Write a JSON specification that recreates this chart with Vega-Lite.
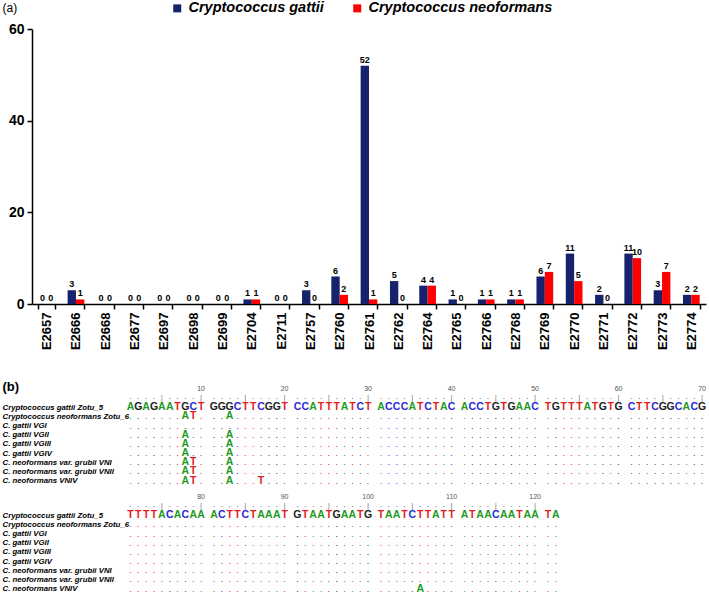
{
"$schema":"https://vega.github.io/schema/vega-lite/v6.json",
"padding":{"left":2,"top":1,"right":2,"bottom":0},
"config":{"font":"Liberation Sans","view":{"stroke":null}},
"datasets":{
"bars":[
{"c":"E2657","s":"Cryptococcus gattii","v":0},{"c":"E2657","s":"Cryptococcus neoformans","v":0},
{"c":"E2666","s":"Cryptococcus gattii","v":3},{"c":"E2666","s":"Cryptococcus neoformans","v":1},
{"c":"E2668","s":"Cryptococcus gattii","v":0},{"c":"E2668","s":"Cryptococcus neoformans","v":0},
{"c":"E2677","s":"Cryptococcus gattii","v":0},{"c":"E2677","s":"Cryptococcus neoformans","v":0},
{"c":"E2697","s":"Cryptococcus gattii","v":0},{"c":"E2697","s":"Cryptococcus neoformans","v":0},
{"c":"E2698","s":"Cryptococcus gattii","v":0},{"c":"E2698","s":"Cryptococcus neoformans","v":0},
{"c":"E2699","s":"Cryptococcus gattii","v":0},{"c":"E2699","s":"Cryptococcus neoformans","v":0},
{"c":"E2704","s":"Cryptococcus gattii","v":1},{"c":"E2704","s":"Cryptococcus neoformans","v":1},
{"c":"E2711","s":"Cryptococcus gattii","v":0},{"c":"E2711","s":"Cryptococcus neoformans","v":0},
{"c":"E2757","s":"Cryptococcus gattii","v":3},{"c":"E2757","s":"Cryptococcus neoformans","v":0},
{"c":"E2760","s":"Cryptococcus gattii","v":6},{"c":"E2760","s":"Cryptococcus neoformans","v":2},
{"c":"E2761","s":"Cryptococcus gattii","v":52},{"c":"E2761","s":"Cryptococcus neoformans","v":1},
{"c":"E2762","s":"Cryptococcus gattii","v":5},{"c":"E2762","s":"Cryptococcus neoformans","v":0},
{"c":"E2764","s":"Cryptococcus gattii","v":4},{"c":"E2764","s":"Cryptococcus neoformans","v":4},
{"c":"E2765","s":"Cryptococcus gattii","v":1},{"c":"E2765","s":"Cryptococcus neoformans","v":0},
{"c":"E2766","s":"Cryptococcus gattii","v":1},{"c":"E2766","s":"Cryptococcus neoformans","v":1},
{"c":"E2768","s":"Cryptococcus gattii","v":1},{"c":"E2768","s":"Cryptococcus neoformans","v":1},
{"c":"E2769","s":"Cryptococcus gattii","v":6},{"c":"E2769","s":"Cryptococcus neoformans","v":7},
{"c":"E2770","s":"Cryptococcus gattii","v":11},{"c":"E2770","s":"Cryptococcus neoformans","v":5},
{"c":"E2771","s":"Cryptococcus gattii","v":2},{"c":"E2771","s":"Cryptococcus neoformans","v":0},
{"c":"E2772","s":"Cryptococcus gattii","v":11},{"c":"E2772","s":"Cryptococcus neoformans","v":10},
{"c":"E2773","s":"Cryptococcus gattii","v":3},{"c":"E2773","s":"Cryptococcus neoformans","v":7},
{"c":"E2774","s":"Cryptococcus gattii","v":2},{"c":"E2774","s":"Cryptococcus neoformans","v":2}
],
"names":[
{"k":"z6","name":"Cryptococcus neoformans Zotu_6"},{"k":"g1","name":"C. gattii VGI"},{"k":"g2","name":"C. gattii VGII"},{"k":"g3","name":"C. gattii VGIII"},{"k":"g4","name":"C. gattii VGIV"},{"k":"n1","name":"C. neoformans var. grubii VNI"},{"k":"n2","name":"C. neoformans var. grubii VNII"},{"k":"n4","name":"C. neoformans VNIV"}
],
"aln":[
{"p":1,"L":1,"B":1,"i":1,"n":"A"},{"p":2,"L":1,"B":1,"i":2,"n":"G"},{"p":3,"L":1,"B":1,"i":3,"n":"A"},{"p":4,"L":1,"B":1,"i":4,"n":"G"},{"p":5,"L":1,"B":1,"i":5,"n":"A"},{"p":6,"L":1,"B":1,"i":6,"n":"A"},{"p":7,"L":1,"B":1,"i":7,"n":"T"},
{"p":8,"L":1,"B":1,"i":8,"n":"G","z6":"A","g2":"A","g3":"A","g4":"A","n1":"A","n2":"A","n4":"A"},
{"p":9,"L":1,"B":1,"i":9,"n":"C","z6":"T","n1":"T","n2":"T","n4":"T"},
{"p":10,"L":1,"B":1,"i":10,"n":"T"},
{"p":11,"L":1,"B":2,"i":1,"n":"G"},{"p":12,"L":1,"B":2,"i":2,"n":"G"},
{"p":13,"L":1,"B":2,"i":3,"n":"G","z6":"A","g2":"A","g3":"A","g4":"A","n1":"A","n2":"A","n4":"A"},
{"p":14,"L":1,"B":2,"i":4,"n":"C"},{"p":15,"L":1,"B":2,"i":5,"n":"T"},{"p":16,"L":1,"B":2,"i":6,"n":"T"},
{"p":17,"L":1,"B":2,"i":7,"n":"C","n4":"T"},
{"p":18,"L":1,"B":2,"i":8,"n":"G"},{"p":19,"L":1,"B":2,"i":9,"n":"G"},{"p":20,"L":1,"B":2,"i":10,"n":"T"},
{"p":21,"L":1,"B":3,"i":1,"n":"C"},{"p":22,"L":1,"B":3,"i":2,"n":"C"},{"p":23,"L":1,"B":3,"i":3,"n":"A"},{"p":24,"L":1,"B":3,"i":4,"n":"T"},{"p":25,"L":1,"B":3,"i":5,"n":"T"},{"p":26,"L":1,"B":3,"i":6,"n":"T"},{"p":27,"L":1,"B":3,"i":7,"n":"A"},{"p":28,"L":1,"B":3,"i":8,"n":"T"},{"p":29,"L":1,"B":3,"i":9,"n":"C"},{"p":30,"L":1,"B":3,"i":10,"n":"T"},
{"p":31,"L":1,"B":4,"i":1,"n":"A"},{"p":32,"L":1,"B":4,"i":2,"n":"C"},{"p":33,"L":1,"B":4,"i":3,"n":"C"},{"p":34,"L":1,"B":4,"i":4,"n":"C"},{"p":35,"L":1,"B":4,"i":5,"n":"A"},{"p":36,"L":1,"B":4,"i":6,"n":"T"},{"p":37,"L":1,"B":4,"i":7,"n":"C"},{"p":38,"L":1,"B":4,"i":8,"n":"T"},{"p":39,"L":1,"B":4,"i":9,"n":"A"},{"p":40,"L":1,"B":4,"i":10,"n":"C"},
{"p":41,"L":1,"B":5,"i":1,"n":"A"},{"p":42,"L":1,"B":5,"i":2,"n":"C"},{"p":43,"L":1,"B":5,"i":3,"n":"C"},{"p":44,"L":1,"B":5,"i":4,"n":"T"},{"p":45,"L":1,"B":5,"i":5,"n":"G"},{"p":46,"L":1,"B":5,"i":6,"n":"T"},{"p":47,"L":1,"B":5,"i":7,"n":"G"},{"p":48,"L":1,"B":5,"i":8,"n":"A"},{"p":49,"L":1,"B":5,"i":9,"n":"A"},{"p":50,"L":1,"B":5,"i":10,"n":"C"},
{"p":51,"L":1,"B":6,"i":1,"n":"T"},{"p":52,"L":1,"B":6,"i":2,"n":"G"},{"p":53,"L":1,"B":6,"i":3,"n":"T"},{"p":54,"L":1,"B":6,"i":4,"n":"T"},{"p":55,"L":1,"B":6,"i":5,"n":"T"},{"p":56,"L":1,"B":6,"i":6,"n":"A"},{"p":57,"L":1,"B":6,"i":7,"n":"T"},{"p":58,"L":1,"B":6,"i":8,"n":"G"},{"p":59,"L":1,"B":6,"i":9,"n":"T"},{"p":60,"L":1,"B":6,"i":10,"n":"G"},
{"p":61,"L":1,"B":7,"i":1,"n":"C"},{"p":62,"L":1,"B":7,"i":2,"n":"T"},{"p":63,"L":1,"B":7,"i":3,"n":"T"},{"p":64,"L":1,"B":7,"i":4,"n":"C"},{"p":65,"L":1,"B":7,"i":5,"n":"G"},{"p":66,"L":1,"B":7,"i":6,"n":"G"},{"p":67,"L":1,"B":7,"i":7,"n":"C"},{"p":68,"L":1,"B":7,"i":8,"n":"A"},{"p":69,"L":1,"B":7,"i":9,"n":"C"},{"p":70,"L":1,"B":7,"i":10,"n":"G"},
{"p":71,"L":2,"B":1,"i":1,"n":"T"},{"p":72,"L":2,"B":1,"i":2,"n":"T"},{"p":73,"L":2,"B":1,"i":3,"n":"T"},{"p":74,"L":2,"B":1,"i":4,"n":"T"},{"p":75,"L":2,"B":1,"i":5,"n":"A"},{"p":76,"L":2,"B":1,"i":6,"n":"C"},{"p":77,"L":2,"B":1,"i":7,"n":"A"},{"p":78,"L":2,"B":1,"i":8,"n":"C"},{"p":79,"L":2,"B":1,"i":9,"n":"A"},{"p":80,"L":2,"B":1,"i":10,"n":"A"},
{"p":81,"L":2,"B":2,"i":1,"n":"A"},{"p":82,"L":2,"B":2,"i":2,"n":"C"},{"p":83,"L":2,"B":2,"i":3,"n":"T"},{"p":84,"L":2,"B":2,"i":4,"n":"T"},{"p":85,"L":2,"B":2,"i":5,"n":"C"},{"p":86,"L":2,"B":2,"i":6,"n":"T"},{"p":87,"L":2,"B":2,"i":7,"n":"A"},{"p":88,"L":2,"B":2,"i":8,"n":"A"},{"p":89,"L":2,"B":2,"i":9,"n":"A"},{"p":90,"L":2,"B":2,"i":10,"n":"T"},
{"p":91,"L":2,"B":3,"i":1,"n":"G"},{"p":92,"L":2,"B":3,"i":2,"n":"T"},{"p":93,"L":2,"B":3,"i":3,"n":"A"},{"p":94,"L":2,"B":3,"i":4,"n":"A"},{"p":95,"L":2,"B":3,"i":5,"n":"T"},{"p":96,"L":2,"B":3,"i":6,"n":"G"},{"p":97,"L":2,"B":3,"i":7,"n":"A"},{"p":98,"L":2,"B":3,"i":8,"n":"A"},{"p":99,"L":2,"B":3,"i":9,"n":"T"},{"p":100,"L":2,"B":3,"i":10,"n":"G"},
{"p":101,"L":2,"B":4,"i":1,"n":"T"},{"p":102,"L":2,"B":4,"i":2,"n":"A"},{"p":103,"L":2,"B":4,"i":3,"n":"A"},{"p":104,"L":2,"B":4,"i":4,"n":"T"},{"p":105,"L":2,"B":4,"i":5,"n":"C"},{"p":106,"L":2,"B":4,"i":6,"n":"T","n4":"A"},{"p":107,"L":2,"B":4,"i":7,"n":"T"},{"p":108,"L":2,"B":4,"i":8,"n":"A"},{"p":109,"L":2,"B":4,"i":9,"n":"T"},{"p":110,"L":2,"B":4,"i":10,"n":"T"},
{"p":111,"L":2,"B":5,"i":1,"n":"A"},{"p":112,"L":2,"B":5,"i":2,"n":"T"},{"p":113,"L":2,"B":5,"i":3,"n":"A"},{"p":114,"L":2,"B":5,"i":4,"n":"A"},{"p":115,"L":2,"B":5,"i":5,"n":"C"},{"p":116,"L":2,"B":5,"i":6,"n":"A"},{"p":117,"L":2,"B":5,"i":7,"n":"A"},{"p":118,"L":2,"B":5,"i":8,"n":"T"},{"p":119,"L":2,"B":5,"i":9,"n":"A"},{"p":120,"L":2,"B":5,"i":10,"n":"A"},
{"p":121,"L":2,"B":6,"i":1,"n":"T"},{"p":122,"L":2,"B":6,"i":2,"n":"A"}
]
},
"resolve":{"scale":{"color":"independent","xOffset":"independent"},"legend":{"color":"independent"}},
"spacing":30,
"vconcat":[
{
"width":674,"height":275,
"data":{"name":"bars"},
"encoding":{
"x":{"field":"c","type":"nominal","sort":null,"scale":{"paddingInner":0.43,"paddingOuter":0.215},
"axis":{"title":null,"labelAngle":-90,"labelAlign":"right","labelBaseline":"middle","labelFontSize":13,"labelFontWeight":"bold","labelColor":"#000","tickBand":"extent","tickColor":"#000","tickWidth":1.5,"tickSize":5,"domainColor":"#000","domainWidth":1.5,"labelPadding":3}},
"xOffset":{"field":"s","type":"nominal","sort":["Cryptococcus gattii","Cryptococcus neoformans"]}
},
"layer":[
{"mark":{"type":"bar"},
"encoding":{
"y":{"field":"v","type":"quantitative","title":"(a)","scale":{"domain":[0,60],"nice":false},
"axis":{"title":"(a)","titleAngle":0,"titleX":-30,"titleY":-22,"titleAlign":"left","titleBaseline":"middle","titleFontSize":12,"titleFontWeight":"normal","titleColor":"#000","values":[0,20,40,60],"grid":false,"labelFontSize":14,"labelFontWeight":"bold","labelColor":"#000","domainColor":"#000","domainWidth":1.5,"tickColor":"#000","tickWidth":1.5,"tickSize":5,"labelPadding":3}},
"color":{"field":"s","type":"nominal","scale":{"domain":["Cryptococcus gattii","Cryptococcus neoformans"],"range":["#16226B","#FF0000"]},
"legend":{"title":null,"orient":"none","legendX":138,"legendY":-28,"direction":"horizontal","symbolType":"square","symbolSize":64,"symbolStrokeWidth":0,"labelFontSize":14.5,"labelFontStyle":"italic","labelFontWeight":"bold","labelColor":"#000","labelLimit":300,"columnPadding":26,"labelOffset":4,"padding":0}}
}},
{"mark":{"type":"text","dy":-6,"fontSize":9,"fontWeight":"bold","color":"#000"},
"encoding":{"y":{"field":"v","type":"quantitative","title":"(a)"},"text":{"field":"v","type":"quantitative"}}}
]
},
{
"spacing":7,
"resolve":{"scale":{"xOffset":"independent"}},
"vconcat":[
{
"width":674,"height":82.5,
"data":{"name":"aln"},
"transform":[{"filter":"datum.L == 1"}],
"encoding":{
"x":{"field":"B","type":"ordinal","scale":{"domain":[1,2,3,4,5,6,7],"paddingInner":0.06,"paddingOuter":0.566,"align":1},"axis":null},
"xOffset":{"field":"i","type":"ordinal","scale":{"domain":[1,2,3,4,5,6,7,8,9,10]}}
},
"layer":[
{"transform":[{"filter":"datum.p <= 120 && datum.i != 5 && datum.i != 10"}],
"mark":{"type":"text","fontSize":9,"color":"#777","baseline":"middle","dy":-2},
"encoding":{"y":{"datum":"rul","type":"nominal","title":"(b)",
"scale":{"type":"point","padding":0,"domain":["rul","Cryptococcus gattii Zotu_5","Cryptococcus neoformans Zotu_6","C. gattii VGI","C. gattii VGII","C. gattii VGIII","C. gattii VGIV","C. neoformans var. grubii VNI","C. neoformans var. grubii VNII","C. neoformans VNIV"]},
"axis":{"title":"(b)","titleAngle":0,"titleX":-30,"titleY":-12,"titleAlign":"left","titleBaseline":"middle","titleFontSize":13,"titleFontWeight":"bold","titleColor":"#000","domain":false,"ticks":false,"tickSize":0,"labelAlign":"left","labelPadding":30,"labelFontSize":7.8,"labelFontWeight":"bold","labelFontStyle":"italic","labelColor":"#000","labelBaseline":"middle","labelExpr":"datum.value == 'rul' ? '' : datum.label"}},
"text":{"value":"."}}},
{"transform":[{"filter":"datum.p <= 120 && (datum.i == 5 || datum.i == 10)"}],
"mark":{"type":"text","fontSize":8,"color":"#777","baseline":"middle"},
"encoding":{"y":{"datum":"rul","type":"nominal","title":"(b)"},"text":{"value":"|"}}},
{"transform":[{"filter":"datum.i == 10"}],
"mark":{"type":"text","fontSize":7,"color":"#555","baseline":"middle","dy":-9},
"encoding":{"y":{"datum":"rul","type":"nominal","title":"(b)"},"text":{"field":"p","type":"quantitative"}}},
{"mark":{"type":"text","fontSize":10.5,"fontWeight":"bold","baseline":"middle"},
"encoding":{"y":{"datum":"Cryptococcus gattii Zotu_5","type":"nominal","title":"(b)"},"text":{"field":"n"},
"color":{"field":"n","type":"nominal","scale":{"domain":["A","C","G","T"],"range":["#1F9A1F","#2A2AD8","#222222","#E41A1C"]},"legend":null}}},
{"transform":[{"fold":["z6","g1","g2","g3","g4","n1","n2","n4"],"as":["k","v"]},{"lookup":"k","from":{"data":{"name":"names"},"key":"k","fields":["name"]}},{"filter":"!datum.v"}],
"mark":{"type":"text","fontSize":9,"baseline":"middle"},
"encoding":{"y":{"field":"name","type":"nominal","title":"(b)"},"text":{"value":"."},
"color":{"field":"n","type":"nominal","scale":{"domain":["A","C","G","T"],"range":["#1F9A1F","#2A2AD8","#222222","#E41A1C"]},"legend":null}}},
{"transform":[{"fold":["z6","g1","g2","g3","g4","n1","n2","n4"],"as":["k","v"]},{"lookup":"k","from":{"data":{"name":"names"},"key":"k","fields":["name"]}},{"filter":"!!datum.v"}],
"mark":{"type":"text","fontSize":10.5,"fontWeight":"bold","baseline":"middle"},
"encoding":{"y":{"field":"name","type":"nominal","title":"(b)"},"text":{"field":"v"},
"color":{"field":"v","type":"nominal","scale":{"domain":["A","C","G","T"],"range":["#1F9A1F","#2A2AD8","#222222","#E41A1C"]},"legend":null}}}
]
},
{
"width":674,"height":82.5,
"data":{"name":"aln"},
"transform":[{"filter":"datum.L == 2"}],
"encoding":{
"x":{"field":"B","type":"ordinal","scale":{"domain":[1,2,3,4,5,6,7],"paddingInner":0.06,"paddingOuter":0.566,"align":1},"axis":null},
"xOffset":{"field":"i","type":"ordinal","scale":{"domain":[1,2,3,4,5,6,7,8,9,10]}}
},
"layer":[
{"transform":[{"filter":"datum.p <= 120 && datum.i != 5 && datum.i != 10"}],
"mark":{"type":"text","fontSize":9,"color":"#777","baseline":"middle","dy":-2},
"encoding":{"y":{"datum":"rul","type":"nominal","title":null,
"scale":{"type":"point","padding":0,"domain":["rul","Cryptococcus gattii Zotu_5","Cryptococcus neoformans Zotu_6","C. gattii VGI","C. gattii VGII","C. gattii VGIII","C. gattii VGIV","C. neoformans var. grubii VNI","C. neoformans var. grubii VNII","C. neoformans VNIV"]},
"axis":{"title":null,"domain":false,"ticks":false,"tickSize":0,"labelAlign":"left","labelPadding":30,"labelFontSize":7.8,"labelFontWeight":"bold","labelFontStyle":"italic","labelColor":"#000","labelBaseline":"middle","labelExpr":"datum.value == 'rul' ? '' : datum.label"}},
"text":{"value":"."}}},
{"transform":[{"filter":"datum.p <= 120 && (datum.i == 5 || datum.i == 10)"}],
"mark":{"type":"text","fontSize":8,"color":"#777","baseline":"middle"},
"encoding":{"y":{"datum":"rul","type":"nominal","title":null},"text":{"value":"|"}}},
{"transform":[{"filter":"datum.i == 10"}],
"mark":{"type":"text","fontSize":7,"color":"#555","baseline":"middle","dy":-9},
"encoding":{"y":{"datum":"rul","type":"nominal","title":null},"text":{"field":"p","type":"quantitative"}}},
{"mark":{"type":"text","fontSize":10.5,"fontWeight":"bold","baseline":"middle"},
"encoding":{"y":{"datum":"Cryptococcus gattii Zotu_5","type":"nominal","title":null},"text":{"field":"n"},
"color":{"field":"n","type":"nominal","scale":{"domain":["A","C","G","T"],"range":["#1F9A1F","#2A2AD8","#222222","#E41A1C"]},"legend":null}}},
{"transform":[{"fold":["z6","g1","g2","g3","g4","n1","n2","n4"],"as":["k","v"]},{"lookup":"k","from":{"data":{"name":"names"},"key":"k","fields":["name"]}},{"filter":"!datum.v"}],
"mark":{"type":"text","fontSize":9,"baseline":"middle"},
"encoding":{"y":{"field":"name","type":"nominal","title":null},"text":{"value":"."},
"color":{"field":"n","type":"nominal","scale":{"domain":["A","C","G","T"],"range":["#1F9A1F","#2A2AD8","#222222","#E41A1C"]},"legend":null}}},
{"transform":[{"fold":["z6","g1","g2","g3","g4","n1","n2","n4"],"as":["k","v"]},{"lookup":"k","from":{"data":{"name":"names"},"key":"k","fields":["name"]}},{"filter":"!!datum.v"}],
"mark":{"type":"text","fontSize":10.5,"fontWeight":"bold","baseline":"middle"},
"encoding":{"y":{"field":"name","type":"nominal","title":null},"text":{"field":"v"},
"color":{"field":"v","type":"nominal","scale":{"domain":["A","C","G","T"],"range":["#1F9A1F","#2A2AD8","#222222","#E41A1C"]},"legend":null}}}
]
}
]
}
]
}
